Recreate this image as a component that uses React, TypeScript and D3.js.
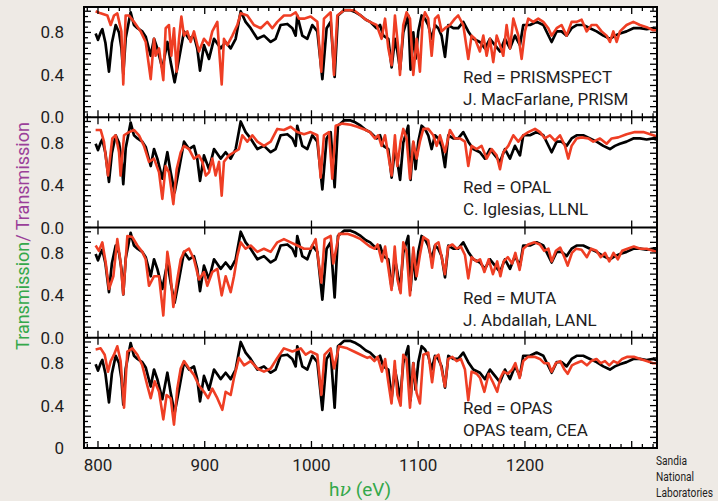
import React from 'react';
import * as d3 from 'd3';

type Pt = [number, number];

const xTickValues = [800, 900, 1000, 1100, 1200];
const panelModels = ['PRISMSPECT', 'OPAL', 'MUTA', 'OPAS'];
const panelAuthors = ['J. MacFarlane, PRISM', 'C. Iglesias, LLNL', 'J. Abdallah, LANL', 'OPAS team, CEA'];
const yLabelValues = [0.8, 0.4];
const bottomLabels = ['0.0', '0.0', '0.0', '0'];

// measured transmission (black), same in every panel
const measured: Pt[] = [
  [797.8,0.79],[800,0.73],[802.5,0.80],[804.1,0.83],[807,0.70],[810.3,0.43],[813,0.70],[816.6,0.87],[819.7,0.80],[822,0.65],[823.7,0.41],[826,0.75],[830.6,0.99],[833.7,0.87],[837,0.84],[840,0.82],[841.5,0.81],[844.7,0.76],[849.4,0.58],[852.5,0.74],[855.6,0.65],[860.3,0.46],[865,0.71],[868.1,0.52],[871.8,0.33],[875.9,0.55],[880.6,0.81],[885.3,0.74],[889.9,0.77],[893,0.65],[895.6,0.44],[899.3,0.68],[904,0.55],[908.7,0.74],[914.9,0.65],[919.6,0.71],[924.3,0.65],[929,0.74],[933.7,1.0],[938.3,0.90],[943,0.84],[949.3,0.74],[955.5,0.77],[961.8,0.71],[966.4,0.74],[971.1,0.87],[977.4,0.88],[982.1,0.84],[985.2,0.77],[986.7,0.96],[991.4,0.77],[996.1,0.74],[1000.8,0.87],[1005.5,0.81],[1010.2,0.36],[1014.2,0.84],[1018,0.90],[1021.7,0.38],[1024.8,0.96],[1030.5,1.01],[1036.7,1.01],[1041.4,0.99],[1046.1,0.96],[1051,0.92],[1055,0.90],[1061,0.84],[1064.2,0.87],[1067.3,0.77],[1072,0.74],[1075.1,0.47],[1078.2,0.74],[1080.5,0.62],[1083,0.45],[1086,0.80],[1090.7,0.96],[1092.8,0.45],[1095.4,0.80],[1097.5,0.55],[1100.1,0.81],[1103.2,0.96],[1106.3,0.93],[1109.4,0.87],[1112.6,0.74],[1115.7,0.87],[1118.8,0.84],[1121.9,0.77],[1125.1,0.57],[1128.2,0.87],[1132.9,0.84],[1137.5,0.84],[1142.2,0.90],[1146.9,0.81],[1151.6,0.74],[1157.8,0.71],[1162.5,0.65],[1167.2,0.74],[1171.9,0.68],[1176.6,0.62],[1181.3,0.74],[1186,0.65],[1190.6,0.77],[1195.3,0.68],[1198.4,0.87],[1204.7,0.87],[1210.9,0.90],[1217.2,0.87],[1225,0.71],[1229.7,0.81],[1234.3,0.81],[1239,0.77],[1243.7,0.84],[1248.4,0.87],[1254.6,0.87],[1260.9,0.84],[1267.1,0.81],[1273.4,0.77],[1279.6,0.74],[1284.3,0.77],[1289,0.79],[1295.2,0.81],[1301.5,0.84],[1307.7,0.84],[1314,0.83],[1320.2,0.84],[1323,0.83]
];

const prismspect: Pt[] = [
  [797.8,1.0],[802.5,0.98],[808.8,0.96],[811.9,0.87],[815,0.96],[818.1,0.98],[821.9,0.81],[823.7,0.31],[825.9,0.96],[829.1,0.96],[833.7,0.90],[840,0.81],[844.7,0.71],[849.4,0.36],[852.5,0.74],[854,0.58],[857.2,0.65],[861.2,0.35],[863.4,0.84],[866.5,0.87],[868.7,0.58],[871.2,0.84],[873.7,0.43],[875.9,0.74],[878.1,0.95],[880.6,0.77],[883.7,0.81],[886.8,0.71],[889.9,0.81],[894.6,0.62],[899.3,0.74],[904,0.68],[907.1,0.81],[911.8,0.90],[913.4,0.65],[915.9,0.31],[918,0.74],[921.2,0.68],[925.9,0.77],[930.5,0.87],[933.7,0.98],[939.9,0.96],[946.1,0.87],[952.4,0.84],[958.6,0.90],[963.3,0.84],[968,0.90],[974.2,0.96],[980.5,0.96],[985.2,0.99],[988.3,0.93],[993,0.93],[999.2,0.95],[1005.5,0.90],[1009.2,0.43],[1011.7,0.93],[1018,0.99],[1021.1,0.40],[1024.2,0.96],[1030.5,1.01],[1039.8,1.01],[1046.1,0.96],[1051,0.92],[1054.8,0.90],[1061,0.87],[1065.7,0.74],[1068.9,0.93],[1072,0.65],[1075.1,0.49],[1078.2,0.96],[1081.3,0.65],[1082.9,0.40],[1086,0.87],[1089.1,0.99],[1092.3,0.93],[1095.4,0.40],[1098.5,0.74],[1101.6,0.43],[1104.1,0.90],[1106.3,0.99],[1109.4,0.93],[1112.6,0.58],[1115.7,0.93],[1118.8,0.96],[1121.9,0.81],[1125.1,0.84],[1129.7,0.87],[1134.4,0.93],[1137.5,0.96],[1142.2,0.87],[1146.9,0.55],[1150,0.77],[1153.2,0.74],[1157.8,0.62],[1161,0.77],[1164.1,0.58],[1167.2,0.74],[1170.3,0.52],[1173.5,0.77],[1176.6,0.68],[1179.7,0.58],[1182.8,0.87],[1186,0.65],[1189.1,0.93],[1193.8,0.77],[1196.9,0.55],[1200,0.81],[1203.1,0.93],[1207.8,0.90],[1212.5,0.93],[1217.2,0.90],[1221.9,0.84],[1225,0.77],[1229.7,0.84],[1234.3,0.87],[1239,0.77],[1243.7,0.90],[1248.4,0.90],[1253.1,0.92],[1257.8,0.81],[1262.4,0.87],[1267.1,0.87],[1271.8,0.81],[1276.5,0.77],[1279.6,0.71],[1282.8,0.81],[1285.9,0.71],[1289,0.81],[1295.2,0.87],[1301.5,0.90],[1307.7,0.87],[1314,0.85],[1320.2,0.82],[1323,0.82]
];

const opal: Pt[] = [
  [797.8,0.92],[802.5,0.92],[805.6,0.81],[809.4,0.49],[813.4,0.84],[816.6,0.87],[819.7,0.71],[821.2,0.49],[824.4,0.87],[829.1,0.90],[833.7,0.92],[838.4,0.87],[843.1,0.77],[847.8,0.62],[852.5,0.65],[857.2,0.52],[860.3,0.27],[863.4,0.58],[866.5,0.52],[870.6,0.22],[873.7,0.55],[877.5,0.71],[880.6,0.77],[885.3,0.74],[889.9,0.65],[894.6,0.68],[897.8,0.62],[901,0.49],[904,0.52],[907.1,0.65],[910.2,0.49],[913.4,0.62],[915.9,0.30],[918,0.62],[922.7,0.68],[927.4,0.71],[932.1,0.74],[935.2,0.87],[939.9,0.81],[944.6,0.87],[949.3,0.81],[955.5,0.77],[961.8,0.81],[968,0.93],[974.2,0.92],[980.5,0.95],[986.7,0.90],[993,0.88],[999.2,0.90],[1005.5,0.87],[1008.6,0.47],[1011.7,0.87],[1016.4,0.90],[1019.5,0.46],[1022.7,0.96],[1028.9,0.98],[1036.7,0.97],[1042.9,0.95],[1050.8,0.92],[1054.8,0.90],[1059.5,0.84],[1062.6,0.87],[1065.7,0.77],[1068.9,0.87],[1072,0.68],[1075.1,0.49],[1078.2,0.87],[1080.4,0.58],[1083.5,0.81],[1086,0.93],[1089.1,0.84],[1092.3,0.46],[1095.4,0.81],[1098.5,0.65],[1101.6,0.81],[1104.8,0.93],[1109.4,0.93],[1114.1,0.87],[1117.3,0.77],[1120.4,0.87],[1125.1,0.71],[1129.7,0.92],[1134.4,0.84],[1139.1,0.84],[1143.8,0.81],[1146.9,0.58],[1150,0.77],[1154.7,0.74],[1159.4,0.77],[1164.1,0.65],[1168.8,0.74],[1173.5,0.68],[1176.6,0.55],[1179.7,0.71],[1184.4,0.77],[1189.1,0.87],[1193.8,0.81],[1198.4,0.87],[1203.1,0.90],[1209.4,0.93],[1214.1,0.90],[1218.7,0.84],[1223.4,0.87],[1228.1,0.82],[1232.8,0.87],[1237.5,0.77],[1240.6,0.65],[1243.7,0.77],[1248.4,0.84],[1253.1,0.85],[1259.3,0.84],[1264,0.81],[1270.3,0.84],[1276.5,0.79],[1281.2,0.84],[1287.4,0.85],[1295.2,0.88],[1303,0.90],[1310.9,0.90],[1320.2,0.87],[1323,0.86]
];

const muta: Pt[] = [
  [797.8,0.87],[800.9,0.82],[804.1,0.90],[807.2,0.71],[810.3,0.46],[814.4,0.58],[818.1,0.93],[821.2,0.71],[823.7,0.41],[827.5,0.96],[832.2,0.95],[836.9,0.87],[841.5,0.81],[844.7,0.74],[847.8,0.49],[852.5,0.58],[857.2,0.58],[861.2,0.21],[865,0.81],[867.5,0.65],[870.6,0.29],[874.3,0.55],[877.5,0.74],[880.6,0.81],[885.3,0.84],[889.9,0.74],[894.6,0.55],[899.3,0.62],[902.4,0.49],[907.1,0.62],[911.8,0.65],[915.9,0.40],[919.6,0.58],[924.3,0.43],[927.4,0.58],[930.5,0.77],[933.7,0.90],[938.3,0.84],[943,0.87],[949.3,0.81],[955.5,0.84],[961.8,0.81],[968,0.90],[974.2,0.93],[980.5,0.90],[986.7,0.87],[993,0.84],[999.2,0.84],[1003.9,0.93],[1009.2,0.52],[1012.3,0.93],[1018,0.96],[1020.5,0.70],[1025.8,0.98],[1033.6,0.98],[1039.8,0.96],[1046.1,0.93],[1052.3,0.88],[1055,0.86],[1059,0.84],[1062,0.88],[1066,0.72],[1069,0.86],[1072,0.66],[1075,0.45],[1078,0.86],[1080.5,0.55],[1083.5,0.42],[1086,0.90],[1089,0.82],[1092.3,0.40],[1095.4,0.85],[1098.5,0.58],[1101.6,0.78],[1104.8,0.95],[1109.4,0.92],[1113,0.66],[1116,0.88],[1119,0.90],[1122,0.76],[1125,0.60],[1128,0.86],[1132,0.88],[1136,0.84],[1140,0.86],[1143.8,0.78],[1146.9,0.56],[1150,0.76],[1154.7,0.72],[1158,0.74],[1162,0.62],[1166,0.74],[1170,0.60],[1174,0.72],[1177,0.58],[1180,0.72],[1184,0.76],[1188,0.70],[1191,0.80],[1195,0.64],[1198.4,0.84],[1203,0.88],[1209,0.90],[1214,0.88],[1218,0.82],[1222,0.84],[1225,0.72],[1229,0.82],[1233,0.85],[1237,0.76],[1240,0.68],[1244,0.80],[1248,0.84],[1253,0.83],[1258,0.76],[1262,0.84],[1267,0.82],[1271,0.76],[1275,0.80],[1279,0.72],[1283,0.80],[1287,0.74],[1291,0.82],[1296,0.84],[1302,0.86],[1308,0.84],[1314,0.84],[1320,0.82],[1323,0.81]
];

const opas: Pt[] = [
  [797.8,0.93],[802.5,0.94],[806.3,0.88],[809.4,0.72],[811.9,0.82],[815,0.88],[818.1,0.96],[821.2,0.82],[824.4,0.38],[827.5,0.91],[832.2,0.94],[836.9,0.88],[841.5,0.78],[846.2,0.59],[849.4,0.47],[853.1,0.63],[857.2,0.53],[861.2,0.27],[864.3,0.50],[868.1,0.47],[871.2,0.22],[874.3,0.56],[877.5,0.75],[880.6,0.82],[885.3,0.75],[889.9,0.69],[894.6,0.59],[899.3,0.53],[903.1,0.47],[907.1,0.56],[911.8,0.47],[916.5,0.36],[919.6,0.53],[924.3,0.50],[927.4,0.66],[932.1,0.85],[936.8,0.78],[943,0.82],[949.3,0.75],[955.5,0.72],[961.8,0.75],[968,0.85],[974.2,0.94],[982.1,0.91],[989.9,0.94],[994.6,0.88],[999.2,0.91],[1005.5,0.88],[1009.2,0.50],[1012.3,0.88],[1018,0.94],[1021.1,0.75],[1025.8,0.96],[1033.6,0.94],[1039.8,0.91],[1046.1,0.88],[1052.3,0.85],[1055,0.86],[1059,0.82],[1062,0.86],[1066,0.72],[1069,0.84],[1072,0.62],[1075,0.42],[1078,0.82],[1080.5,0.50],[1083.5,0.40],[1086,0.88],[1089,0.84],[1092.3,0.38],[1095.4,0.80],[1098.5,0.52],[1101.6,0.42],[1104.8,0.88],[1109.4,0.90],[1113,0.62],[1116,0.86],[1119,0.88],[1122,0.74],[1125,0.58],[1128,0.84],[1132,0.86],[1136,0.82],[1140,0.84],[1143.8,0.74],[1146.9,0.45],[1150,0.72],[1154.7,0.70],[1158,0.66],[1162,0.53],[1166,0.70],[1170,0.62],[1174,0.53],[1177,0.66],[1180,0.72],[1184,0.70],[1188,0.74],[1191,0.80],[1195,0.66],[1198.4,0.82],[1203,0.86],[1209,0.86],[1214,0.84],[1218,0.80],[1222,0.80],[1225,0.72],[1229,0.80],[1233,0.82],[1237,0.74],[1240,0.70],[1244,0.78],[1248,0.80],[1253,0.82],[1258,0.78],[1262,0.82],[1267,0.84],[1271,0.80],[1275,0.82],[1279,0.78],[1283,0.82],[1287,0.80],[1291,0.84],[1296,0.86],[1302,0.86],[1308,0.84],[1314,0.82],[1320,0.80],[1323,0.80]
];

const models: Pt[][] = [prismspect, opal, muta, opas];

const W = 718, H = 501;
const L = 84, R = 657, T = 7, B = 448;
const NP = 4;
const PH = (B - T) / NP;
const BG = '#eeeae5';
const RED = '#ef3e24';
const GREEN = '#34a84a';
const PURPLE = '#9a3f99';
const INK = '#1e1e1e';
const FONT = "Roboto, 'DejaVu Sans', sans-serif";

export default function App() {
  const x = d3.scaleLinear().domain([786.9, 1323.7]).range([L, R]);
  const minorX = d3.range(790, 1321, 10);
  const yMinor = d3.range(0, 1.0001, 0.05);

  const panels = d3.range(NP).map((i) => {
    const y = d3.scaleLinear().domain([0, 1.04]).range([T + (i + 1) * PH, T + i * PH]);
    const line = d3.line<Pt>().x((d) => x(d[0])).y((d) => y(d[1]));
    return { i, y, line };
  });

  const boundaries = d3.range(NP + 1).map((k) => {
    const yy = T + k * PH;
    const cfg =
      k === 0 ? { mu: false, md: true, Mu: false, Md: true } :
      k === 1 ? { mu: true, md: true, Mu: true, Md: true } :
      k === 2 ? { mu: false, md: false, Mu: true, Md: true } :
      k === 3 ? { mu: true, md: false, Mu: true, Md: true } :
      { mu: true, md: false, Mu: true, Md: false };
    return { yy, ...cfg };
  });

  return (
    <svg width={W} height={H} style={{ position: 'absolute', left: 0, top: 0, display: 'block' }} fontFamily={FONT}>
      <rect x={0} y={0} width={W} height={H} fill={BG} />
      <rect x={L} y={T} width={R - L} height={B - T} fill="#fff" />
      <defs>
        {panels.map((p) => (
          <clipPath id={`clip${p.i}`} key={p.i}>
            <rect x={L} y={T + p.i * PH} width={R - L} height={PH} />
          </clipPath>
        ))}
      </defs>

      {panels.map((p) => (
        <g key={p.i} clipPath={`url(#clip${p.i})`}>
          <path d={p.line(measured) || ''} fill="none" stroke="#000" strokeWidth={2.7} strokeLinejoin="round" />
          <path d={p.line(models[p.i]) || ''} fill="none" stroke={RED} strokeWidth={2.6} strokeLinejoin="round" />
        </g>
      ))}

      {panels.map((p) => (
        <g key={`yt${p.i}`} stroke="#000" strokeWidth={1.3}>
          {yMinor.map((v, j) => {
            const major = j % 2 === 0;
            const len = major ? 7 : 4;
            const yy = p.y(v);
            return (
              <g key={j}>
                <line x1={L} x2={L + len} y1={yy} y2={yy} />
                <line x1={R} x2={R - len} y1={yy} y2={yy} />
              </g>
            );
          })}
        </g>
      ))}

      {boundaries.map((b, k) => (
        <g key={`xb${k}`} stroke="#000" strokeWidth={1.3}>
          {minorX.map((v) => {
            const major = v % 100 === 0;
            const xx = x(v);
            const up = major ? b.Mu : b.mu;
            const down = major ? b.Md : b.md;
            const len = major ? 7 : 4;
            if (!up && !down) return null;
            return (
              <line key={v} x1={xx} x2={xx} y1={up ? b.yy - len : b.yy} y2={down ? b.yy + len : b.yy} />
            );
          })}
        </g>
      ))}

      {panels.map((p) => (
        <line key={`sep${p.i}`} x1={L} x2={R} y1={T + (p.i + 1) * PH} y2={T + (p.i + 1) * PH} stroke="#000" strokeWidth={2} />
      ))}
      <rect x={L} y={T} width={R - L} height={B - T} fill="none" stroke="#000" strokeWidth={2} />

      {panels.map((p) => (
        <g key={`yl${p.i}`} fill={INK} fontSize={17} textAnchor="end">
          {yLabelValues.map((v) => (
            <text key={v} x={64} y={p.y(v) + 6}>{v.toFixed(1)}</text>
          ))}
          <text x={64} y={p.y(0) + 6}>{bottomLabels[p.i]}</text>
        </g>
      ))}

      <g fill={INK} fontSize={17} textAnchor="middle">
        {xTickValues.map((v) => (
          <text key={v} x={x(v)} y={471}>{v}</text>
        ))}
      </g>

      {panels.map((p) => (
        <g key={`ann${p.i}`} fill={INK} fontSize={17}>
          <text x={463} y={T + p.i * PH + 76}>{`Red = ${panelModels[p.i]}`}</text>
          <text x={463} y={T + p.i * PH + 98}>{panelAuthors[p.i]}</text>
        </g>
      ))}

      <text transform="translate(29,236) rotate(-90)" textAnchor="middle" fontSize={18}>
        <tspan fill={GREEN}>Transmission</tspan>
        <tspan fill={PURPLE}>/ Transmission</tspan>
      </text>

      <text x={360} y={496} textAnchor="middle" fontSize={19} fill={GREEN}>
        <tspan>h</tspan>
        <tspan fontFamily="'DejaVu Serif', serif" fontStyle="italic">ν</tspan>
        <tspan> (eV)</tspan>
      </text>

      <g fill={INK} fontSize={12} transform="translate(656,0) scale(0.85,1)">
        <text x={0} y={465}>Sandia</text>
        <text x={0} y={481}>National</text>
        <text x={0} y={497}>Laboratories</text>
      </g>
    </svg>
  );
}
